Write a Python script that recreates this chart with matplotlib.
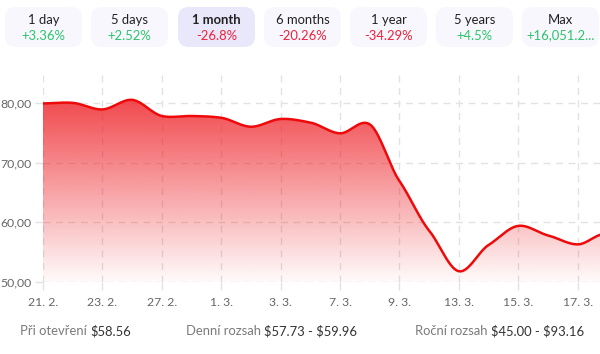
import numpy as np
import matplotlib
matplotlib.use("Agg")
import matplotlib.pyplot as plt
from matplotlib.patches import FancyBboxPatch, Polygon

plt.rcParams['font.family'] = ['Lato', 'DejaVu Sans']
plt.rcParams['text.parse_math'] = False

# ---- data ----
periods = ["1 day", "5 days", "1 month", "6 months", "1 year", "5 years", "Max"]
changes = ["+3.36%", "+2.52%", "-26.8%", "-20.26%", "-34.29%", "+4.5%", "+16,051.2..."]
selected = "1 month"

x_pos = [0, 1, 2, 3, 4, 5, 6, 7, 8, 9, 10, 11, 12, 13, 14, 15, 16, 17, 18, 18.75]
prices = [79.9, 80.0, 78.9, 80.5, 77.8, 77.8, 77.5, 76.0, 77.3, 76.7, 74.9, 76.4,
          66.9, 58.6, 51.8, 56.2, 59.4, 57.8, 56.3, 57.9]
tick_idx = [0, 2, 4, 6, 8, 10, 12, 14, 16, 18]
tick_labels = ["21. 2.", "23. 2.", "27. 2.", "1. 3.", "3. 3.", "7. 3.", "9. 3.",
               "13. 3.", "15. 3.", "17. 3."]
y_ticks = [50, 60, 70, 80]
footer = [("Při otevření ", "$58.56"), ("Denní rozsah ", "$57.73 - $59.96"),
          ("Roční rozsah ", "$45.00 - $93.16")]

GREEN = "#2bc46b"
RED = "#f0203a"

W, H = 600, 354
fig = plt.figure(figsize=(6, 3.54), dpi=100)
fig.patch.set_facecolor("white")

# ---- buttons ----
bx = [5, 91, 178, 264, 350, 436, 522]
bw = 77
for i, (p, c) in enumerate(zip(periods, changes)):
    sel = p == selected
    fc = "#e9e8fb" if sel else "#f8f7fd"
    r = FancyBboxPatch((bx[i] / W, 1 - 47 / H), bw / W, 40 / H,
                       boxstyle="round,pad=0,rounding_size=0.018",
                       transform=fig.transFigure, fc=fc, ec="none",
                       mutation_aspect=W / H)
    fig.add_artist(r)
    cx = (bx[i] + bw / 2) / W
    fig.text(cx, 1 - 19.5 / H, p, ha="center", va="center", fontsize=9.4,
             color="#222222", fontweight="bold" if sel else "normal")
    fig.text(cx, 1 - 35.5 / H, c, ha="center", va="center", fontsize=9.4,
             color=GREEN if c.startswith("+") else RED)

# ---- chart ----
ax = fig.add_axes([43 / W, 1 - 282 / H, 557 / W, (282 - 73) / H])
ymin, ymax = 50, 85
ax.set_xlim(0, 18.75)
ax.set_ylim(ymin, ymax)

# smooth curve (cubic Hermite through the points)
xs = np.array(x_pos, float)
ys = np.array(prices, float)
n = len(xs)
m = np.zeros(n)
for i in range(n):
    if i == 0:
        m[i] = (ys[1] - ys[0]) / (xs[1] - xs[0])
    elif i == n - 1:
        m[i] = (ys[-1] - ys[-2]) / (xs[-1] - xs[-2])
    else:
        m[i] = (ys[i + 1] - ys[i - 1]) / (xs[i + 1] - xs[i - 1])
m *= 0.8
cx_, cy_ = [], []
for i in range(n - 1):
    h = xs[i + 1] - xs[i]
    t = np.linspace(0, 1, 40, endpoint=False)
    h00 = 2 * t**3 - 3 * t**2 + 1
    h10 = t**3 - 2 * t**2 + t
    h01 = -2 * t**3 + 3 * t**2
    h11 = t**3 - t**2
    cx_.append(xs[i] + t * h)
    cy_.append(h00 * ys[i] + h10 * h * m[i] + h01 * ys[i + 1] + h11 * h * m[i + 1])
cx_.append([xs[-1]]); cy_.append([ys[-1]])
sx = np.concatenate(cx_); sy = np.concatenate(cy_)

# gradient fill
grad = np.zeros((256, 2, 4))
alpha = np.linspace(0.02, 0.85, 256)
grad[:, :, 0] = 238 / 255
grad[:, :, 1] = 30 / 255
grad[:, :, 2] = 36 / 255
grad[:, :, 3] = alpha[:, None]
im = ax.imshow(grad, extent=[0, 18.75, ymin, 82], origin="lower", aspect="auto", zorder=2)
poly = Polygon(np.column_stack([np.r_[sx, sx[-1], sx[0]], np.r_[sy, ymin, ymin]]),
               closed=True, fc="none", ec="none", transform=ax.transData)
ax.add_patch(poly)
im.set_clip_path(poly)

ax.plot(sx, sy, color="#ee0a0a", lw=1.8, zorder=3, solid_capstyle="round")

# grid
for xi in tick_idx:
    ax.axvline(xi, color="#e2e2e2", lw=1, ls=(0, (5, 4)), zorder=1)
for yv in y_ticks:
    ax.axhline(yv, color="#e2e2e2", lw=1, ls=(0, (5, 4)), zorder=1)

ax.set_xticks(tick_idx)
ax.set_xticklabels(tick_labels)
ax.set_yticks(y_ticks)
ax.set_yticklabels([f"{v},00" for v in y_ticks])
ax.tick_params(axis="both", colors="#e2e2e2", labelcolor="#666666", labelsize=8.8,
               length=6, width=1)
ax.tick_params(axis="y", pad=2)
ax.tick_params(axis="x", pad=5)
for s in ax.spines.values():
    s.set_visible(False)
ax.set_facecolor("white")

# footer
fx = [20, 186, 415]
fig.canvas.draw()
for (lab, val), x0 in zip(footer, fx):
    t = fig.text(x0 / W, 1 - 331 / H, lab, ha="left", va="center", fontsize=9.4, color="#7a7a7a")
    bb = t.get_window_extent(renderer=fig.canvas.get_renderer())
    fig.text(bb.x1 / W, 1 - 331 / H, val, ha="left", va="center", fontsize=9.4, color="#333333")

fig.savefig("out.png", dpi=100, facecolor="white")
